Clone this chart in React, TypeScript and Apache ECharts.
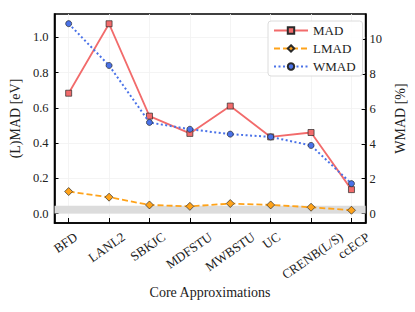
import React, { useEffect, useRef } from 'react';
import * as echarts from 'echarts';

const categories = ['BFD', 'LANL2', 'SBKJC', 'MDFSTU', 'MWBSTU', 'UC', 'CRENB(L/S)', 'ccECP'];
const madValues = [0.683, 1.077, 0.553, 0.455, 0.61, 0.435, 0.46, 0.136];
const lmadValues = [0.125, 0.093, 0.049, 0.041, 0.057, 0.049, 0.036, 0.019];
const wmadValues = [10.9, 8.5, 5.23, 4.84, 4.56, 4.4, 3.91, 1.72];
const leftTicks = [0, 0.2, 0.4, 0.6, 0.8, 1.0];
const rightTicks = [0, 2, 4, 6, 8, 10];
const xTicks = [0, 1, 2, 3, 4, 5, 6, 7];
const bandRange = [0, 0.045];

const FONT = "'Liberation Serif', 'Times New Roman', serif";
const ROT = 35;
const XFS = 13;

export default function App() {
  const ref = useRef<HTMLDivElement>(null);
  useEffect(() => {
    const chart = echarts.init(ref.current!, null, { renderer: 'svg' });
    const canvas = document.createElement('canvas');
    const ctx = canvas.getContext('2d')!;
    ctx.font = `${XFS}px ${FONT}`;
    const th = (ROT * Math.PI) / 180;
    const lh = XFS;
    const H = categories.map((c) => ctx.measureText(c).width * Math.sin(th) + lh * Math.cos(th));
    const Hmin = Math.min(...H);
    const topGap = 7;
    const margin = topGap + Hmin / 2;
    const rich: any = {};
    categories.forEach((c, i) => {
      const d = (H[i] - Hmin) / 2;
      rich['l' + i] = {
        fontFamily: FONT,
        fontSize: XFS,
        color: '#222',
        lineHeight: lh,
        padding: [2 * d * Math.cos(th), 2 * d * Math.sin(th), 0, 0],
      };
    });

    // main plot geometry
    const gLeft = 51, gTop = 14, gWidth = 317, gHeight = 209;
    const xMin = -0.35, xMax = xTicks.length - 1 + 0.35;
    const pxPerUnit = gWidth / (xMax - xMin);
    const labelLeft = gLeft + (0 - xMin) * pxPerUnit;
    const labelWidth = (xTicks.length - 1) * pxPerUnit;

    const red = '#f26b6b';
    const orange = '#ffa31a';
    const blue = '#4a72e8';
    const edge = '#2a2a2a';

    chart.setOption({
      animation: false,
      backgroundColor: '#fff',
      grid: [
        {
          left: gLeft,
          top: gTop,
          width: gWidth,
          height: gHeight,
          show: true,
          borderColor: '#000',
          borderWidth: 1.6,
          backgroundColor: 'transparent',
          containLabel: false,
        },
        {
          left: labelLeft,
          top: gTop,
          width: labelWidth,
          height: gHeight,
          show: false,
          containLabel: false,
        },
      ],
      legend: {
        orient: 'vertical',
        left: 268,
        top: 21,
        padding: [3, 7, 3, 5],
        itemGap: 5,
        itemWidth: 34,
        itemHeight: 8,
        backgroundColor: 'rgba(255,255,255,0.85)',
        borderColor: '#dcdcdc',
        borderWidth: 1,
        borderRadius: 3,
        textStyle: { fontFamily: FONT, fontSize: 13, color: '#222', lineHeight: 13 },
        data: ['MAD', 'LMAD', 'WMAD'],
      },
      xAxis: [
        {
          type: 'value',
          gridIndex: 0,
          min: xMin,
          max: xMax,
          name: 'Core Approximations',
          nameLocation: 'middle',
          nameGap: 62,
          nameTextStyle: { fontFamily: FONT, fontSize: 14, color: '#222' },
          axisLine: { show: true, onZero: false, lineStyle: { color: '#000', width: 1.6 } },
          axisTick: { show: true, inside: true, length: 5, customValues: xTicks, lineStyle: { color: '#000', width: 1 } },
          splitLine: { show: true, lineStyle: { color: '#f1f1f1', width: 0.8 } },
          axisLabel: { show: false, customValues: xTicks },
        },
        {
          type: 'category',
          gridIndex: 1,
          data: categories,
          boundaryGap: false,
          axisLine: { show: false, onZero: false },
          axisTick: { show: false },
          splitLine: { show: false },
          axisLabel: {
            interval: 0,
            rotate: ROT,
            align: 'center',
            verticalAlign: 'middle',
            margin: margin,
            hideOverlap: false,
            formatter: (v: string, i: number) => `{l${i}|${v}}`,
            rich,
          },
        },
      ],
      yAxis: [
        {
          type: 'value',
          gridIndex: 0,
          min: -0.0534,
          max: 1.1324,
          name: '(L)MAD [eV]',
          nameLocation: 'middle',
          nameGap: 24,
          nameTextStyle: { fontFamily: FONT, fontSize: 14, color: '#222' },
          axisLine: { show: true, onZero: false, lineStyle: { color: '#000', width: 1.6 } },
          axisTick: { show: true, inside: true, length: 4, customValues: leftTicks, lineStyle: { color: '#000', width: 1 } },
          splitLine: { show: true, lineStyle: { color: '#f1f1f1', width: 0.8 } },
          axisLabel: {
            customValues: leftTicks,
            margin: 6,
            fontFamily: FONT,
            fontSize: 12.5,
            color: '#222',
            formatter: (v: number) => v.toFixed(1),
          },
        },
        {
          type: 'value',
          gridIndex: 0,
          min: -0.54,
          max: 11.454,
          position: 'right',
          name: 'WMAD [%]',
          nameLocation: 'middle',
          nameGap: 21,
          nameTextStyle: { fontFamily: FONT, fontSize: 14, color: '#222' },
          axisLine: { show: true, onZero: false, lineStyle: { color: '#000', width: 1.6 } },
          axisTick: { show: true, inside: true, length: 4, customValues: rightTicks, lineStyle: { color: '#000', width: 1 } },
          splitLine: { show: false },
          axisLabel: {
            customValues: rightTicks,
            margin: 4,
            fontFamily: FONT,
            fontSize: 12.5,
            color: '#222',
            formatter: (v: number) => String(Math.round(v)),
          },
        },
        {
          type: 'value',
          gridIndex: 1,
          show: false,
        },
      ],
      series: [
        {
          name: 'MAD',
          type: 'line',
          xAxisIndex: 0,
          yAxisIndex: 0,
          data: madValues.map((v, i) => [i, v]),
          symbol: 'rect',
          symbolSize: 6,
          z: 3,
          lineStyle: { color: red, width: 1.8 },
          itemStyle: { color: red, borderColor: edge, borderWidth: 0.7 },
          markArea: {
            silent: true,
            z: 1,
            itemStyle: { color: '#dcdcdc', opacity: 1 },
            data: [[{ yAxis: bandRange[0] }, { yAxis: bandRange[1] }]],
          },
        },
        {
          name: 'LMAD',
          type: 'line',
          xAxisIndex: 0,
          yAxisIndex: 0,
          data: lmadValues.map((v, i) => [i, v]),
          symbol: 'diamond',
          symbolSize: 8,
          z: 4,
          lineStyle: { color: orange, width: 1.8, type: [6, 3] },
          itemStyle: { color: orange, borderColor: edge, borderWidth: 0.7 },
        },
        {
          name: 'WMAD',
          type: 'line',
          xAxisIndex: 0,
          yAxisIndex: 1,
          data: wmadValues.map((v, i) => [i, v]),
          symbol: 'circle',
          symbolSize: 6,
          z: 5,
          lineStyle: { color: blue, width: 2, type: [2, 2.5] },
          itemStyle: { color: blue, borderColor: edge, borderWidth: 0.7 },
        },
      ],
    });
    return () => chart.dispose();
  }, []);
  return <div ref={ref} style={{ position: 'absolute', left: 0, top: 0, width: 415, height: 312 }} />;
}
